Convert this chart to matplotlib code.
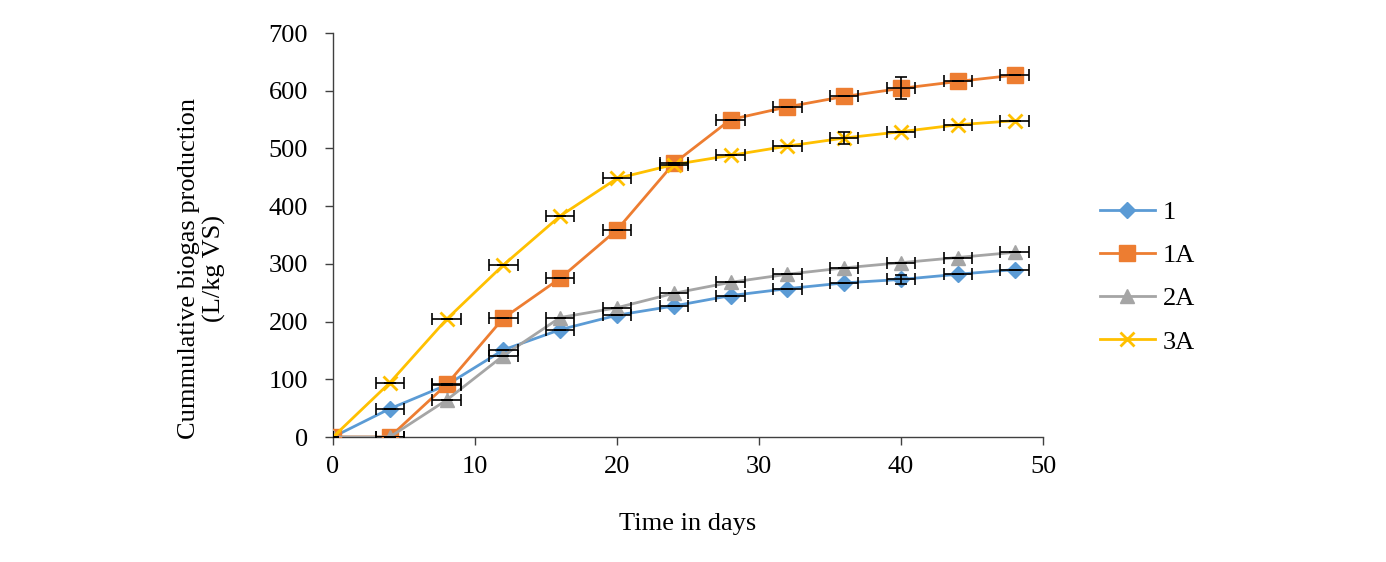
import numpy as np
import matplotlib
matplotlib.use("Agg")
import matplotlib.pyplot as plt

days = [0, 4, 8, 12, 16, 20, 24, 28, 32, 36, 40, 44, 48]
s1 = [0, 49, 90, 151, 186, 211, 227, 245, 257, 267, 273, 282, 290]
s1a = [0, 0, 91, 206, 275, 359, 474, 550, 572, 590, 604, 616, 627]
s2a = [0, 0, 64, 141, 207, 224, 249, 268, 282, 293, 302, 311, 320]
s3a = [0, 94, 204, 298, 383, 448, 472, 488, 504, 518, 529, 541, 548]
names = ["1", "1A", "2A", "3A"]

x_err = [0, 1, 1, 1, 1, 1, 1, 1, 1, 1, 1, 1, 1]
s1_yerr = [0, 0, 0, 0, 0, 0, 0, 0, 0, 0, 8, 0, 0]
s1a_yerr = [0, 0, 0, 0, 0, 0, 0, 0, 0, 0, 19, 0, 0]
s2a_yerr = [0, 0, 0, 0, 0, 0, 0, 0, 0, 0, 0, 0, 0]
s3a_yerr = [0, 0, 0, 0, 0, 0, 0, 0, 0, 10, 0, 0, 0]

plt.rcParams["font.family"] = ["Liberation Serif", "DejaVu Serif"]
fs = 19

fig = plt.figure(figsize=(13.86, 5.62), dpi=100)
ax = fig.add_axes([333 / 1386, 1 - 437 / 562, 710 / 1386, 404 / 562])

styles = [
    (s1, s1_yerr, "#5B9BD5", "D", 8),
    (s1a, s1a_yerr, "#ED7D31", "s", 11),
    (s2a, s2a_yerr, "#A5A5A5", "^", 10),
    (s3a, s3a_yerr, "#FFC000", "x", 10),
]
handles = []
for (vals, yerr, col, mk, ms), nm in zip(styles, names):
    ax.errorbar(days, vals, xerr=x_err, yerr=yerr, fmt="none", ecolor="black",
                elinewidth=1.2, capsize=4, capthick=1.2, zorder=4)
    ln, = ax.plot(days, vals, color=col, lw=2, marker=mk, ms=ms,
                  markerfacecolor=col, markeredgecolor=col,
                  markeredgewidth=2 if mk == "x" else 1, label=nm, zorder=3)
    handles.append(ln)

ax.set_xlim(0, 50)
ax.set_ylim(0, 700)
ax.set_xticks(range(0, 51, 10))
ax.set_yticks(range(0, 701, 100))
for sp in ["top", "right"]:
    ax.spines[sp].set_visible(False)
for sp in ["left", "bottom"]:
    ax.spines[sp].set_color("#404040")
    ax.spines[sp].set_linewidth(1)
ax.tick_params(axis="both", direction="out", length=6, width=1, color="#404040",
               labelsize=fs, pad=12)
ax.tick_params(axis="x", pad=8)

ax.set_xlabel("Time in days", fontsize=fs, labelpad=25)
ax.set_ylabel("Cummulative biogas production\n(L/kg VS)", fontsize=fs)
ax.yaxis.set_label_coords(-0.15, 0.418)

fig.legend(handles=handles, labels=names, loc="center left",
           bbox_to_anchor=(1076 / 1386, 1 - 277 / 562), frameon=False,
           fontsize=fs, handlelength=2.1, labelspacing=0.75, handletextpad=0.3)

fig.savefig("out.png", dpi=100, facecolor="white")
